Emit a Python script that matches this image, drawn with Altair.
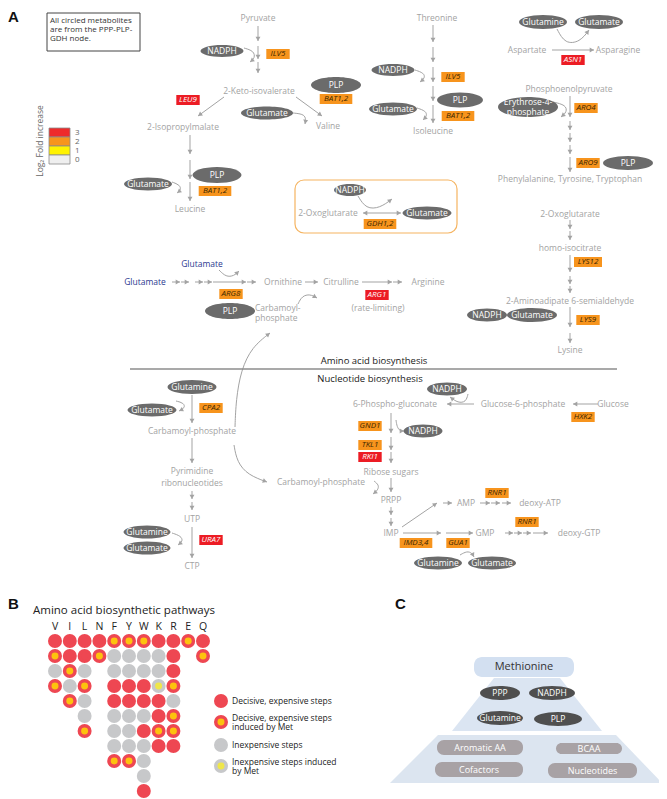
import altair as alt
import pandas as pd
import numpy as np

FONT = "Open Sans"
GREY_TXT = "#a3a3a3"
ARROW = "#a3a3a3"
DARK = "#6b6b6b"
ORANGE = "#f7941d"
RED = "#ec1c24"
BLUE = "#2b3990"

# ---------------- Panel A content ----------------
metabolites = [
    ("Pyruvate", 258, 18), ("2-Keto-isovalerate", 259, 91), ("2-Isopropylmalate", 183, 127),
    ("Valine", 328, 126), ("Leucine", 190, 209), ("Threonine", 437, 18), ("Isoleucine", 433, 131),
    ("Aspartate", 527, 50), ("Asparagine", 618, 50), ("Phosphoenolpyruvate", 569, 89),
    ("Phenylalanine, Tyrosine, Tryptophan", 570, 179), ("2-Oxoglutarate", 328, 213),
    ("2-Oxoglutarate", 570, 214), ("homo-isocitrate", 570, 248),
    ("2-Aminoadipate 6-semialdehyde", 570, 301), ("Lysine", 570, 350),
    ("Ornithine", 283, 282), ("Citrulline", 341, 282), ("Arginine", 428, 282),
    ("(rate-limiting)", 378, 308), ("Carbamoyl-phosphate", 192, 431), ("Pyrimidine", 192, 471),
    ("ribonucleotides", 192, 483), ("UTP", 192, 519), ("CTP", 192, 566),
    ("Carbamoyl-phosphate", 321, 482), ("6-Phospho-gluconate", 395, 404),
    ("Glucose-6-phosphate", 523, 404), ("Glucose", 613, 404), ("Ribose sugars", 391, 472),
    ("PRPP", 391, 500), ("AMP", 466, 503), ("deoxy-ATP", 540, 503), ("IMP", 391, 533),
    ("GMP", 485, 533), ("deoxy-GTP", 579, 533),
]
metabolites_left = [("Carbamoyl-", 255, 308), ("phosphate", 255, 318)]
blue_labels = [("Glutamate", 145, 282), ("Glutamate", 202, 264)]

cofactors = [
    ("NADPH", 222, 51, 43, 12), ("PLP", 336, 85, 50, 16), ("Glutamate", 267, 113, 52, 13),
    ("NADPH", 393, 70, 43, 12), ("Glutamate", 393, 109, 48, 13), ("PLP", 460, 100, 46, 15),
    ("PLP", 217, 175, 49, 16), ("Glutamate", 148, 184, 48, 13), ("Glutamine", 543, 22, 48, 14),
    ("Glutamate", 599, 22, 48, 14), ("", 528, 107, 60, 20),
    ("PLP", 628, 163, 50, 14), ("NADPH", 350, 190, 32, 12), ("Glutamate", 427, 213, 49, 13),
    ("NADPH", 487, 315, 40, 13), ("Glutamate", 532, 315, 50, 14), ("PLP", 230, 311, 50, 16),
    ("Glutamine", 192, 387, 49, 14), ("Glutamate", 152, 410, 49, 13), ("NADPH", 447, 389, 40, 13),
    ("NADPH", 423, 431, 39, 13), ("Glutamine", 147, 532, 47, 13), ("Glutamate", 147, 548, 47, 13),
    ("Glutamine", 438, 563, 48, 13), ("Glutamate", 492, 563, 48, 13),
]
erythrose_lines = [("Erythrose-4-", 528, 102), ("phosphate", 528, 112)]

genes = [
    ("ILV5", 278, 54, "o"), ("LEU9", 188, 100, "r"), ("BAT1,2", 336, 99, "o"), ("ILV5", 453, 77, "o"),
    ("BAT1,2", 458, 116, "o"), ("BAT1,2", 215, 191, "o"), ("ASN1", 573, 60, "r"), ("ARO4", 586, 108, "o"),
    ("ARO9", 588, 163, "o"), ("GDH1,2", 380, 224, "o"), ("LYS12", 588, 262, "o"), ("ARG8", 231, 294, "o"),
    ("ARG1", 377, 295, "r"), ("LYS9", 588, 320, "o"), ("CPA2", 211, 408, "o"), ("URA7", 211, 540, "r"),
    ("HXK2", 583, 417, "o"), ("GND1", 370, 426, "o"), ("TKL1", 370, 445, "o"), ("RKI1", 370, 457, "r"),
    ("RNR1", 497, 493, "o"), ("RNR1", 527, 522, "o"), ("IMD3,4", 416, 543, "o"), ("GUA1", 458, 543, "o"),
]

arrows = [
    (258, 26, 258, 41), (258, 46, 258, 59), (258, 62, 258, 73),
    (224, 97, 198, 116), (296, 97, 322, 116),
    (190, 135, 190, 154), (190, 160, 190, 179), (190, 182, 190, 201),
    (433, 25, 433, 42), (433, 47, 433, 62), (433, 67, 433, 82), (433, 86, 433, 101), (433, 105, 433, 123),
    (552, 50, 594, 50),
    (570, 96, 570, 117), (570, 121, 570, 130), (570, 133, 570, 142), (570, 145, 570, 154), (570, 157, 570, 172),
    (570, 220, 570, 229), (570, 231, 570, 240), (570, 255, 570, 272), (570, 276, 570, 284),
    (570, 286, 570, 293), (570, 307, 570, 327), (570, 333, 570, 343),
    (382, 213, 363, 213), (382, 213, 401, 213),
    (172, 282, 180, 282), (181, 282, 189, 282), (195, 282, 203, 282), (204, 282, 212, 282),
    (213, 282, 246, 282), (247, 282, 256, 282), (305, 282, 318, 282), (362, 282, 392, 282),
    (393, 282, 402, 282),
    (192, 395, 192, 423), (192, 438, 192, 463), (192, 491, 192, 499), (192, 502, 192, 510),
    (192, 527, 192, 558),
    (598, 404, 573, 404), (474, 404, 447, 404),
    (391, 413, 391, 433), (391, 437, 391, 450), (391, 452, 391, 463), (391, 478, 391, 492),
    (391, 507, 391, 515), (391, 518, 391, 526),
    (402, 527, 437, 503), (443, 503, 452, 503), (480, 503, 490, 503), (491, 503, 500, 503),
    (502, 503, 511, 503),
    (403, 533, 441, 533), (446, 533, 473, 533), (505, 533, 513, 533), (514, 533, 522, 533),
    (523, 533, 531, 533), (533, 533, 548, 533),
]

curves = [
    [(244, 48), (254, 51), (255, 58), (250, 62)],
    [(293, 113), (303, 114), (306, 118), (305, 124)],
    [(415, 70), (424, 73), (425, 78), (420, 82)],
    [(417, 108), (426, 111), (427, 116), (423, 120)],
    [(172, 182), (180, 185), (181, 190), (177, 193)],
    [(557, 29), (565, 44), (580, 42), (589, 30)],
    [(553, 102), (566, 105), (567, 112), (561, 117)],
    [(358, 196), (366, 209), (380, 208), (392, 199)],
    [(219, 270), (226, 277), (234, 276), (239, 271)],
    [(298, 304), (302, 296), (310, 294), (317, 298)],
    [(235, 427), (236, 400), (241, 370), (252, 347), (270, 333)],
    [(234, 445), (237, 462), (248, 475), (267, 482)],
    [(176, 401), (184, 403), (185, 408), (179, 411)],
    [(468, 394), (466, 402), (458, 403), (450, 397)],
    [(396, 420), (397, 427), (400, 431), (404, 431)],
    [(374, 481), (379, 485), (378, 490), (373, 494)],
    [(172, 533), (181, 536), (183, 541), (178, 545)],
    [(460, 555), (467, 551), (472, 553), (474, 557)],
]

info_lines = [("All circled metabolites", 50, 21), ("are from the PPP-PLP-", 50, 30), ("GDH node.", 50, 39)]
fold_levels = ["3", "2", "1", "0"]
fold_colors = ["#ee2b2b", "#f7941d", "#fff200", "#efefef"]

# ---------------- Panel B content ----------------
amino_acids = ["V", "I", "L", "N", "F", "Y", "W", "K", "R", "E", "Q"]
D = "Decisive, expensive steps"
DM = "Decisive, expensive steps induced by Met"
I = "Inexpensive steps"
IM = "Inexpensive steps induced by Met"
statuses = [D, DM, I, IM]
status_fill = ["#ee4752", "#fdc20e", "#c7c8ca", "#efe64a"]
status_stroke = ["#ee4752", "#ee4752", "#c7c8ca", "#c7c8ca"]
steps = {
    "V": [D, DM, I, DM],
    "I": [D, D, DM, I, DM],
    "L": [D, D, I, DM, I, I, DM],
    "N": [D, DM],
    "F": [DM, I, I, D, D, I, I, I, DM],
    "Y": [DM, I, I, D, D, I, I, I, DM],
    "W": [DM, I, I, D, D, I, D, I, I, I, D],
    "K": [D, I, I, IM, D, D, DM, D],
    "R": [D, D, D, DM, I, DM, DM, D],
    "E": [DM],
    "Q": [D, DM],
}
legend_rows = [(D, 701), (DM, 722), (I, 745), (IM, 766)]
legend_text = [("Decisive, expensive steps", 232, 701), ("Decisive, expensive steps", 232, 718),
               ("induced by Met", 232, 727), ("Inexpensive steps", 232, 745),
               ("Inexpensive steps induced", 232, 762), (" by Met", 232, 771)]

# ---------------- Panel C content ----------------
pyramid_cofactors = [("PPP", 500, 693, 40, 14), ("NADPH", 552, 693, 46, 14),
                     ("Glutamine", 500, 718, 46, 14), ("PLP", 558, 719, 48, 14)]
pyramid_groups = [("Aromatic AA", 437, 740, 523, 755), ("BCAA", 556, 743, 622, 754),
                  ("Cofactors", 435, 762, 523, 777), ("Nucleotides", 548, 763, 637, 778)]

W_PLOT, H_PLOT = 651, 791


# ---------------- helpers ----------------
def X(f="x"):
    return alt.X(f"{f}:Q", scale=alt.Scale(domain=[8, 8 + W_PLOT], nice=False, zero=False), axis=None)


def Y(f="y", **kw):
    return alt.Y(f"{f}:Q", scale=alt.Scale(domain=[8, 8 + H_PLOT], nice=False, zero=False, reverse=True),
                 axis=None, **kw)


def texts(rows, size, color, align="center", weight="normal", style="normal", angle=0, font=FONT,
          baseline="middle"):
    df = pd.DataFrame(rows, columns=["t", "x", "y"])
    return alt.Chart(df).mark_text(fontSize=size, color=color, align=align, baseline=baseline,
                                   font=font, fontWeight=weight, fontStyle=style, angle=angle
                                   ).encode(x=X(), y=Y(), text="t:N")


def ellipse_path(r):
    k = 0.5523
    return (f"M -1 0 C -1 {-k*r:.3f} {-k:.3f} {-r:.3f} 0 {-r:.3f} "
            f"C {k:.3f} {-r:.3f} 1 {-k*r:.3f} 1 0 C 1 {k*r:.3f} {k:.3f} {r:.3f} 0 {r:.3f} "
            f"C {-k:.3f} {r:.3f} -1 {k*r:.3f} -1 0 Z")


def ellipses(rows, color, tsize=8.5):
    df = pd.DataFrame(rows, columns=["t", "x", "y", "w", "h"])
    df["path"] = [ellipse_path(h / w) for w, h in zip(df.w, df.h)]
    df["size"] = df.w ** 2
    shp = alt.Chart(df).mark_point(filled=True, opacity=1, color=color, strokeWidth=0).encode(
        x=X(), y=Y(), shape=alt.Shape("path:N", scale=None), size=alt.Size("size:Q", scale=None))
    lab = alt.Chart(df).mark_text(fontSize=tsize, color="white", font=FONT, baseline="middle").encode(
        x=X(), y=Y(), text="t:N")
    return [shp, lab]


def rects(df, **mk):
    return alt.Chart(df).mark_rect(**mk).encode(x=X("x1"), x2=alt.X2("x2:Q"), y=Y("y1"), y2=alt.Y2("y2:Q"))


layers = []

# ---- Panel A frames ----
layers.append(rects(pd.DataFrame([{"x1": 47, "x2": 140, "y1": 13, "y2": 51}]),
                    fillOpacity=0, stroke="#444444", strokeWidth=1))
layers.append(texts(info_lines, 8, "#333333", align="left"))
layers.append(rects(pd.DataFrame([{"x1": 295, "x2": 457, "y1": 180, "y2": 233}]),
                    fillOpacity=0, stroke="#f5b461", strokeWidth=1.2, cornerRadius=9))

# fold legend
fold = pd.DataFrame({"lvl": fold_levels, "c": fold_colors})
fold["x1"] = 49
fold["x2"] = 70
fold["y1"] = [128 + 9 * i for i in range(4)]
fold["y2"] = fold["y1"] + 9
fold["xl"] = 75
fold["yl"] = fold["y1"] + 4.5
layers.append(alt.Chart(fold).mark_rect(stroke="#8a8a8a", strokeWidth=0.8).encode(
    x=X("x1"), x2=alt.X2("x2:Q"), y=Y("y1"), y2=alt.Y2("y2:Q"), fill=alt.Fill("c:N", scale=None)))
layers.append(alt.Chart(fold).mark_text(fontSize=8, color="#666666", align="left", font=FONT,
                                        baseline="middle").encode(x=X("xl"), y=Y("yl"), text="lvl:N"))
layers.append(texts([("Log\u2082 Fold increase", 40, 141)], 8.5, "#666666", angle=270))

# arrows
adf = pd.DataFrame(arrows, columns=["x1", "y1", "x2", "y2"])
layers.append(alt.Chart(adf).mark_rule(color=ARROW, strokeWidth=1).encode(
    x=X("x1"), x2=alt.X2("x2:Q"), y=Y("y1"), y2=alt.Y2("y2:Q")))

crow = []
for i, pts in enumerate(curves):
    for k, (px, py) in enumerate(pts):
        crow.append({"cid": i, "k": k, "x": px, "y": py})
cdf = pd.DataFrame(crow)
layers.append(alt.Chart(cdf).mark_line(interpolate="basis", color=ARROW, strokeWidth=1).encode(
    x=X(), y=Y(), detail="cid:N", order="k:Q"))

heads = list(arrows) + [(p[-2][0], p[-2][1], p[-1][0], p[-1][1]) for p in curves]
hdf = pd.DataFrame(heads, columns=["x1", "y1", "x2", "y2"])
dx = hdf.x2 - hdf.x1
dy = hdf.y2 - hdf.y1
ln = np.hypot(dx, dy)
hdf["x"] = hdf.x2 - 2.2 * dx / ln
hdf["y"] = hdf.y2 - 2.2 * dy / ln
hdf["ang"] = (np.degrees(np.arctan2(dx, -dy)) + 360) % 360
layers.append(alt.Chart(hdf).mark_point(shape="triangle-up", filled=True, opacity=1, size=24,
                                        color=ARROW, strokeWidth=0).encode(
    x=X(), y=Y(), angle=alt.Angle("ang:Q", scale=None)))

# metabolite labels
layers.append(texts(metabolites, 8.5, GREY_TXT))
layers.append(texts(metabolites_left, 8.5, GREY_TXT, align="left"))
layers.append(texts(blue_labels, 8.5, BLUE))

# cofactor ellipses
layers += ellipses(cofactors, DARK)
layers.append(texts(erythrose_lines, 8.5, "white"))

# gene boxes
gdf = pd.DataFrame(genes, columns=["g", "x", "y", "kind"])
gdf["w"] = gdf.g.str.len() * 4.6 + 5
gdf["x1"] = gdf.x - gdf.w / 2
gdf["x2"] = gdf.x + gdf.w / 2
gdf["y1"] = gdf.y - 5
gdf["y2"] = gdf.y + 5
gdf["fill"] = np.where(gdf.kind == "r", RED, ORANGE)
gdf["tc"] = np.where(gdf.kind == "r", "#ffffff", "#3a2600")
layers.append(alt.Chart(gdf).mark_rect().encode(
    x=X("x1"), x2=alt.X2("x2:Q"), y=Y("y1"), y2=alt.Y2("y2:Q"), fill=alt.Fill("fill:N", scale=None)))
layers.append(alt.Chart(gdf).mark_text(fontSize=8, font=FONT, fontStyle="italic", baseline="middle").encode(
    x=X(), y=Y(), text="g:N", color=alt.Color("tc:N", scale=None)))

# divider
layers.append(alt.Chart(pd.DataFrame([{"x1": 130, "x2": 617, "y1": 369}])).mark_rule(
    color="#8c8c8c", strokeWidth=1.5).encode(x=X("x1"), x2=alt.X2("x2:Q"), y=Y("y1")))
layers.append(texts([("Amino acid biosynthesis", 374, 361), ("Nucleotide biosynthesis", 370, 379)],
                    9.5, "#1a1a1a"))

# panel letters
layers.append(texts([("A", 8, 10)], 15, "#111111", align="left", baseline="top",
                    weight="bold", font="Liberation Sans"))
layers.append(texts([("B", 8, 604), ("C", 395, 604)], 15, "#111111", align="left",
                    weight="bold", font="Liberation Sans"))

# ---- Panel B ----
brow = []
for aa in amino_acids:
    for i, s in enumerate(steps[aa]):
        brow.append({"aa": aa, "row": i + 1, "status": s})
bdf = pd.DataFrame(brow)
bx = alt.X("aa:N", scale=alt.Scale(type="point", domain=amino_acids, range=[47, 195], padding=0), axis=None)
by = alt.Y("row:O", scale=alt.Scale(type="point", domain=list(range(1, 12)), range=[633, 783], padding=0),
           axis=None)
fill_enc = alt.Fill("status:N", scale=alt.Scale(domain=statuses, range=status_fill), legend=None)
stroke_enc = alt.Stroke("status:N", scale=alt.Scale(domain=statuses, range=status_stroke), legend=None)
layers.append(alt.Chart(bdf).mark_point(filled=True, opacity=1, size=110, strokeWidth=3.5, shape="circle").encode(
    x=bx, y=by, fill=fill_enc, stroke=stroke_enc))
layers.append(alt.Chart(pd.DataFrame({"aa": amino_acids})).mark_text(
    fontSize=10.5, font=FONT, color="#222222", baseline="middle").encode(
    x=bx, y=alt.value(619), text="aa:N"))
layers.append(texts([("Amino acid biosynthetic pathways", 33, 611)], 11.5, "#222222", align="left"))

# legend (drawn with the same colour scales)
ldf = pd.DataFrame(legend_rows, columns=["status", "y"])
ldf["x"] = 221
layers.append(alt.Chart(ldf).mark_point(filled=True, opacity=1, size=110, strokeWidth=3.5, shape="circle").encode(
    x=X(), y=Y(), fill=fill_enc, stroke=stroke_enc))
layers.append(texts(legend_text, 8.5, "#222222", align="left"))

# ---- Panel C ----
up = pd.DataFrame({"x": [452, 494, 560, 602], "y": [731, 678, 678, 731], "y2": [731] * 4})
lo = pd.DataFrame({"x": [390, 438, 616, 662], "y": [783, 735, 735, 783], "y2": [783] * 4})
layers.append(alt.Chart(up).mark_area(color="#dbe5f2", opacity=1).encode(
    x=X(), y=Y(stack=None), y2=alt.Y2("y2:Q")))
layers.append(alt.Chart(lo).mark_area(color="#dce5f0", opacity=1).encode(
    x=X(), y=Y(stack=None), y2=alt.Y2("y2:Q")))
layers.append(rects(pd.DataFrame([{"x1": 474, "x2": 574, "y1": 657, "y2": 677}]),
                    fill="#d3e0f1", cornerRadius=8))
layers.append(texts([("Methionine", 524, 667)], 11, "#333333"))
layers += ellipses(pyramid_cofactors, "#4f4f4f")
pg = pd.DataFrame(pyramid_groups, columns=["t", "x1", "y1", "x2", "y2"])
pg["x"] = (pg.x1 + pg.x2) / 2
pg["y"] = (pg.y1 + pg.y2) / 2
layers.append(rects(pg, fill="#a8a2a5", cornerRadius=7))
layers.append(alt.Chart(pg).mark_text(fontSize=9, font=FONT, color="white", baseline="middle").encode(
    x=X(), y=Y(), text="t:N"))

chart = alt.layer(*layers).resolve_scale(x="independent", y="independent").properties(
    width=W_PLOT, height=H_PLOT, padding=0, autosize=alt.AutoSizeParams(type="none")
).configure_view(stroke=None)

chart.save("out.html", embed_options={"renderer": "svg", "actions": False})
